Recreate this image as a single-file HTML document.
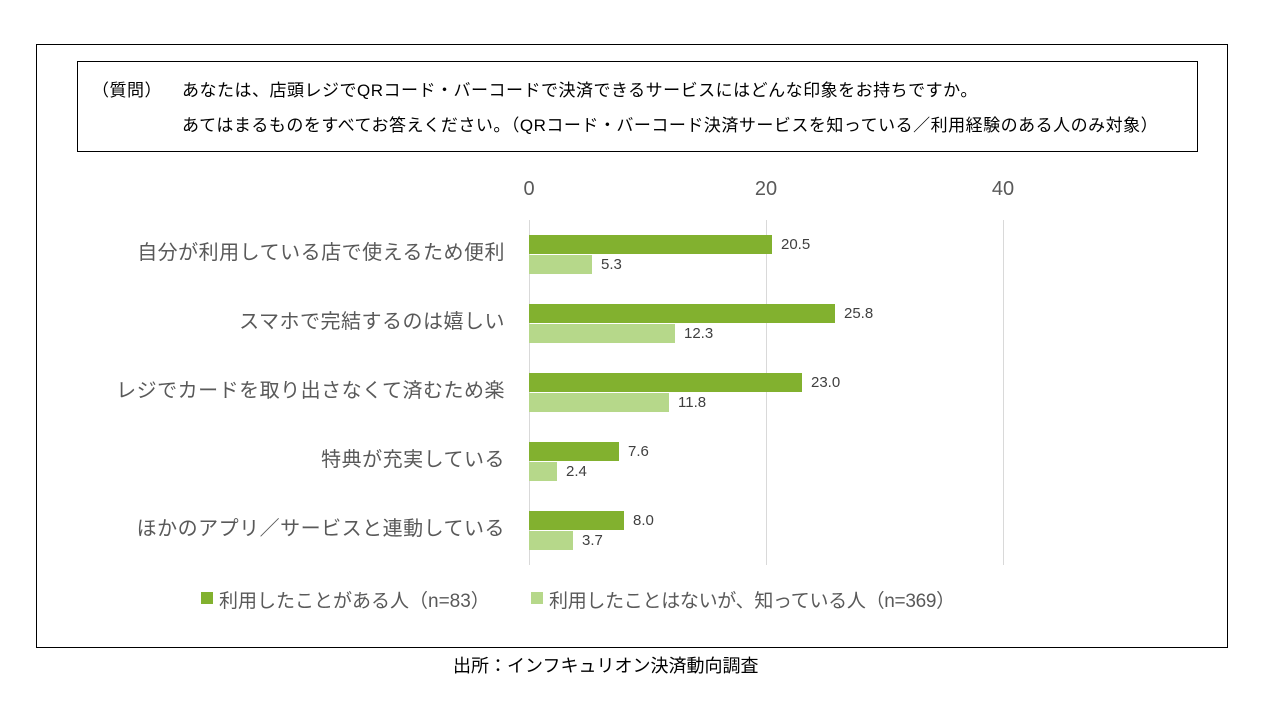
<!DOCTYPE html>
<html><head><meta charset="utf-8"><style>
body{margin:0;width:1280px;height:720px;background:#fff;position:relative;font-family:"Liberation Sans","Noto Sans CJK JP",sans-serif;overflow:hidden}
.a{position:absolute;white-space:nowrap}
.cat{position:absolute;right:775px;font-size:20px;color:#595959;line-height:24px;letter-spacing:0.5px;white-space:nowrap}
.v{position:absolute;font-size:15px;color:#404040;line-height:18px}
.bd{position:absolute;left:529px;height:19px;background:#82b12f}
.bl{position:absolute;left:529px;height:19px;background:#b6d88a}
.g{position:absolute;top:220px;height:345px;width:1px;background:#d9d9d9}
.t{position:absolute;top:178px;font-size:20px;color:#595959;width:60px;text-align:center}
.q{letter-spacing:0.5px}
</style></head><body>
<div class="a" style="left:36px;top:44px;width:1190px;height:602px;border:1px solid #000"></div>
<div class="a" style="left:77px;top:61px;width:1119px;height:89px;border:1px solid #000"></div>
<div class="a q" style="left:92px;top:76px;font-size:17px;color:#000">（質問）</div>
<div class="a q" style="left:182px;top:76px;font-size:17px;color:#000">あなたは、店頭レジでQRコード・バーコードで決済できるサービスにはどんな印象をお持ちですか。</div>
<div class="a q" style="left:182px;top:111px;font-size:17px;color:#000">あてはまるものをすべてお答えください。（QRコード・バーコード決済サービスを知っている／利用経験のある人のみ対象）</div>
<div class="t" style="left:499px">0</div><div class="t" style="left:736px">20</div><div class="t" style="left:973px">40</div>
<div class="g" style="left:529px"></div><div class="g" style="left:766px"></div><div class="g" style="left:1003px"></div>

<div class="cat" style="top:241px">自分が利用している店で使えるため便利</div>
<div class="bd" style="top:235px;width:243px"></div><div class="v" style="left:781px;top:236px">20.5</div>
<div class="bl" style="top:255px;width:63px"></div><div class="v" style="left:601px;top:256px">5.3</div>

<div class="cat" style="top:310px">スマホで完結するのは嬉しい</div>
<div class="bd" style="top:304px;width:306px"></div><div class="v" style="left:844px;top:305px">25.8</div>
<div class="bl" style="top:324px;width:146px"></div><div class="v" style="left:684px;top:325px">12.3</div>

<div class="cat" style="top:379px">レジでカードを取り出さなくて済むため楽</div>
<div class="bd" style="top:373px;width:273px"></div><div class="v" style="left:811px;top:374px">23.0</div>
<div class="bl" style="top:393px;width:140px"></div><div class="v" style="left:678px;top:394px">11.8</div>

<div class="cat" style="top:448px">特典が充実している</div>
<div class="bd" style="top:442px;width:90px"></div><div class="v" style="left:628px;top:443px">7.6</div>
<div class="bl" style="top:462px;width:28px"></div><div class="v" style="left:566px;top:463px">2.4</div>

<div class="cat" style="top:517px">ほかのアプリ／サービスと連動している</div>
<div class="bd" style="top:511px;width:95px"></div><div class="v" style="left:633px;top:512px">8.0</div>
<div class="bl" style="top:531px;width:44px"></div><div class="v" style="left:582px;top:532px">3.7</div>

<div class="a" style="left:201px;top:592px;width:12px;height:12px;background:#82b12f"></div>
<div class="a" style="left:219px;top:586px;font-size:19px;color:#595959">利用したことがある人（n=83）</div>
<div class="a" style="left:531px;top:592px;width:12px;height:12px;background:#b6d88a"></div>
<div class="a" style="left:549px;top:586px;font-size:19px;color:#595959;letter-spacing:-0.3px">利用したことはないが、知っている人（n=369）</div>
<div class="a" style="left:453px;top:652px;font-size:18px;color:#000">出所：インフキュリオン決済動向調査</div>
</body></html>
